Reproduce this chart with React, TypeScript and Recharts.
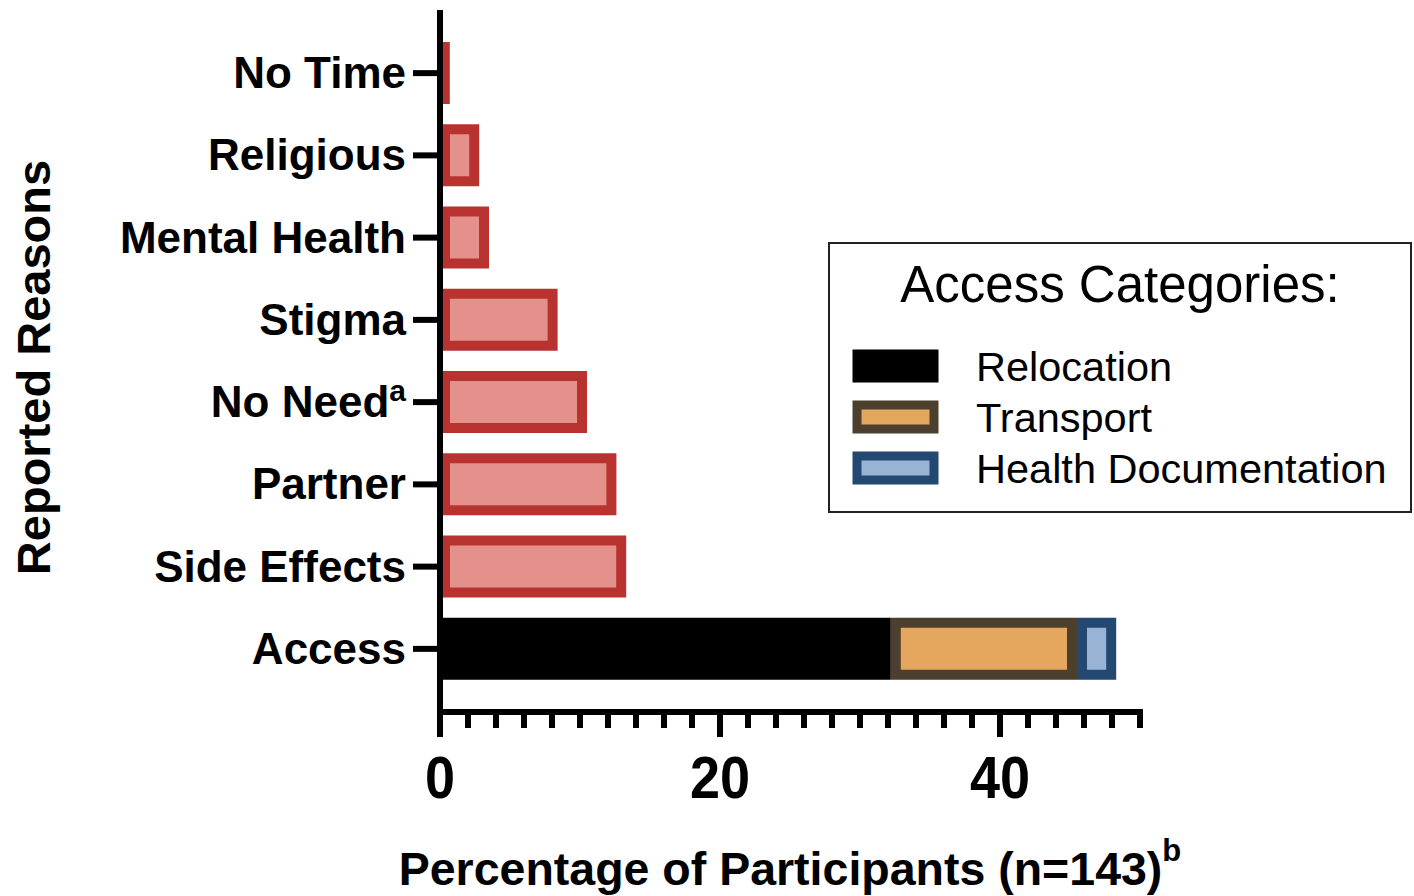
import React from 'react';
import { BarChart, Bar, XAxis, YAxis, Legend } from 'recharts';

const FONT = '"Liberation Sans", Arial, Helvetica, sans-serif';

const categories = ['No Time', 'Religious', 'Mental Health', 'Stigma', 'No Need', 'Partner', 'Side Effects', 'Access'];
const categorySuperscripts = ['', '', '', '', 'a', '', '', ''];
const reasonValues = [0.7, 2.8, 3.5, 8.4, 10.5, 12.6, 13.3, 0];
const relocationValues = [0, 0, 0, 0, 0, 0, 0, 32.2];
const transportValues = [0, 0, 0, 0, 0, 0, 0, 13.3];
const healthDocValues = [0, 0, 0, 0, 0, 0, 0, 2.8];

const xTicks = [0, 2, 4, 6, 8, 10, 12, 14, 16, 18, 20, 22, 24, 26, 28, 30, 32, 34, 36, 38, 40, 42, 44, 46, 48, 50];
const xTickLabels = [0, 20, 40];

const legendTitle = 'Access Categories:';
const accessSeries = ['Relocation', 'Transport', 'Health Documentation'];
const accessFills = ['#000000', '#E5A65E', '#98B3D4'];
const accessStrokes = ['#000000', '#4D3F2E', '#234872'];
const reasonFill = '#E3918A';
const reasonStroke = '#B83330';

const xTitle = 'Percentage of Participants (n=143)';
const xTitleSup = 'b';
const yTitle = 'Reported Reasons';

const data = categories.map((name, i) => ({
  name,
  sup: categorySuperscripts[i],
  reason: reasonValues[i],
  relocation: relocationValues[i],
  transport: transportValues[i],
  health: healthDocValues[i],
}));

const SW = 10;

const makeInsetShape = (fill: string, stroke: string) => (props: any) => {
  const { x, y, width, height } = props;
  if (!width || width <= 0 || !height) return <g />;
  if (width <= SW) {
    return <rect x={x} y={y} width={width} height={height} fill={stroke} />;
  }
  return (
    <rect
      x={x + SW / 2}
      y={y + SW / 2}
      width={width - SW}
      height={height - SW}
      fill={fill}
      stroke={stroke}
      strokeWidth={SW}
    />
  );
};

const YTick = (props: any) => {
  const { x, y, payload, index } = props;
  const sup = categorySuperscripts[index] || '';
  return (
    <text
      x={x}
      y={y}
      dy={15}
      textAnchor="end"
      fontFamily={FONT}
      fontWeight="bold"
      fontSize={44}
      fill="#000"
    >
      {payload.value}
      {sup ? (
        <tspan fontSize={30} dy={-16}>
          {sup}
        </tspan>
      ) : null}
    </text>
  );
};

const XTick = (props: any) => {
  const { x, y, payload } = props;
  const major = xTickLabels.includes(payload.value);
  return (
    <g>
      <line x1={x} x2={x} y1={y} y2={y + (major ? 25 : 16)} stroke="#000" strokeWidth={6} />
      {major ? (
        <text
          transform={`translate(${x}, ${y + 86}) scale(0.9, 1)`}
          textAnchor="middle"
          fontFamily={FONT}
          fontWeight="bold"
          fontSize={60}
          fill="#000"
        >
          {payload.value}
        </text>
      ) : null}
    </g>
  );
};

const XTitle = (props: any) => {
  const vb = props.viewBox || {};
  const cx = vb.x + vb.width / 2;
  const by = vb.y + 173;
  return (
    <text x={cx} y={by} textAnchor="middle" fontFamily={FONT} fontWeight="bold" fontSize={46.5} fill="#000">
      {xTitle}
      <tspan fontSize={31} dy={-24}>
        {xTitleSup}
      </tspan>
    </text>
  );
};

const YTitle = (props: any) => {
  const vb = props.viewBox || {};
  const bx = 50;
  const cy = vb.y + vb.height / 2 + 5;
  return (
    <text
      x={bx}
      y={cy}
      transform={`rotate(-90, ${bx}, ${cy})`}
      textAnchor="middle"
      fontFamily={FONT}
      fontWeight="bold"
      fontSize={47}
      fill="#000"
    >
      {yTitle}
    </text>
  );
};

const LegendBox = () => (
  <div
    style={{
      width: 584,
      height: 271,
      boxSizing: 'border-box',
      border: '2px solid #222',
      background: '#fff',
      position: 'relative',
    }}
  >
    <svg width={580} height={267} style={{ position: 'absolute', left: 0, top: 0 }}>
      <text x={290} y={58} textAnchor="middle" fontFamily={FONT} fontSize={51} fill="#000">
        {legendTitle}
      </text>
      {accessSeries.map((name, i) => {
        const top = 106 + i * 51;
        return (
          <g key={name}>
            <rect
              x={23 + SW / 2 - 1}
              y={top + SW / 2 - 1}
              width={85 - SW + 2}
              height={32 - SW + 2}
              fill={accessFills[i]}
              stroke={accessStrokes[i]}
              strokeWidth={SW - 1}
            />
            <text x={146} y={top + 31} fontFamily={FONT} fontSize={41.5} fill="#000">
              {name}
            </text>
          </g>
        );
      })}
    </svg>
  </div>
);

export default function App() {
  return (
    <div style={{ position: 'absolute', left: 0, top: 0, width: 1414, height: 896, background: '#fff' }}>
      <BarChart
        width={1414}
        height={896}
        data={data}
        layout="vertical"
        margin={{ top: 13, right: 274, bottom: 0, left: 0 }}
        barSize={62}
      >
        <XAxis
          type="number"
          domain={[0, 50]}
          ticks={xTicks}
          interval={0}
          tickLine={false}
          tickSize={0}
          tickMargin={0}
          tick={<XTick />}
          axisLine={{ stroke: '#000', strokeWidth: 6, strokeLinecap: 'square' }}
          height={184}
          allowDataOverflow
          label={<XTitle />}
        />
        <YAxis
          type="category"
          dataKey="name"
          width={440}
          interval={0}
          tickSize={27}
          tickMargin={7}
          tickLine={{ stroke: '#000', strokeWidth: 6 }}
          axisLine={{ stroke: '#000', strokeWidth: 6, strokeLinecap: 'square' }}
          padding={{ top: 19, bottom: 22 }}
          tick={<YTick />}
          label={<YTitle />}
        />
        <Legend
          layout="horizontal"
          verticalAlign="middle"
          align="center"
          content={<LegendBox />}
          wrapperStyle={{ left: 828, top: 242, width: 584, height: 271 }}
        />
        <Bar dataKey="reason" stackId="s" isAnimationActive={false} shape={makeInsetShape(reasonFill, reasonStroke)} legendType="none" />
        <Bar dataKey="relocation" name={accessSeries[0]} stackId="s" isAnimationActive={false} shape={makeInsetShape(accessFills[0], accessStrokes[0])} />
        <Bar dataKey="transport" name={accessSeries[1]} stackId="s" isAnimationActive={false} shape={makeInsetShape(accessFills[1], accessStrokes[1])} />
        <Bar dataKey="health" name={accessSeries[2]} stackId="s" isAnimationActive={false} shape={makeInsetShape(accessFills[2], accessStrokes[2])} />
      </BarChart>
    </div>
  );
}
